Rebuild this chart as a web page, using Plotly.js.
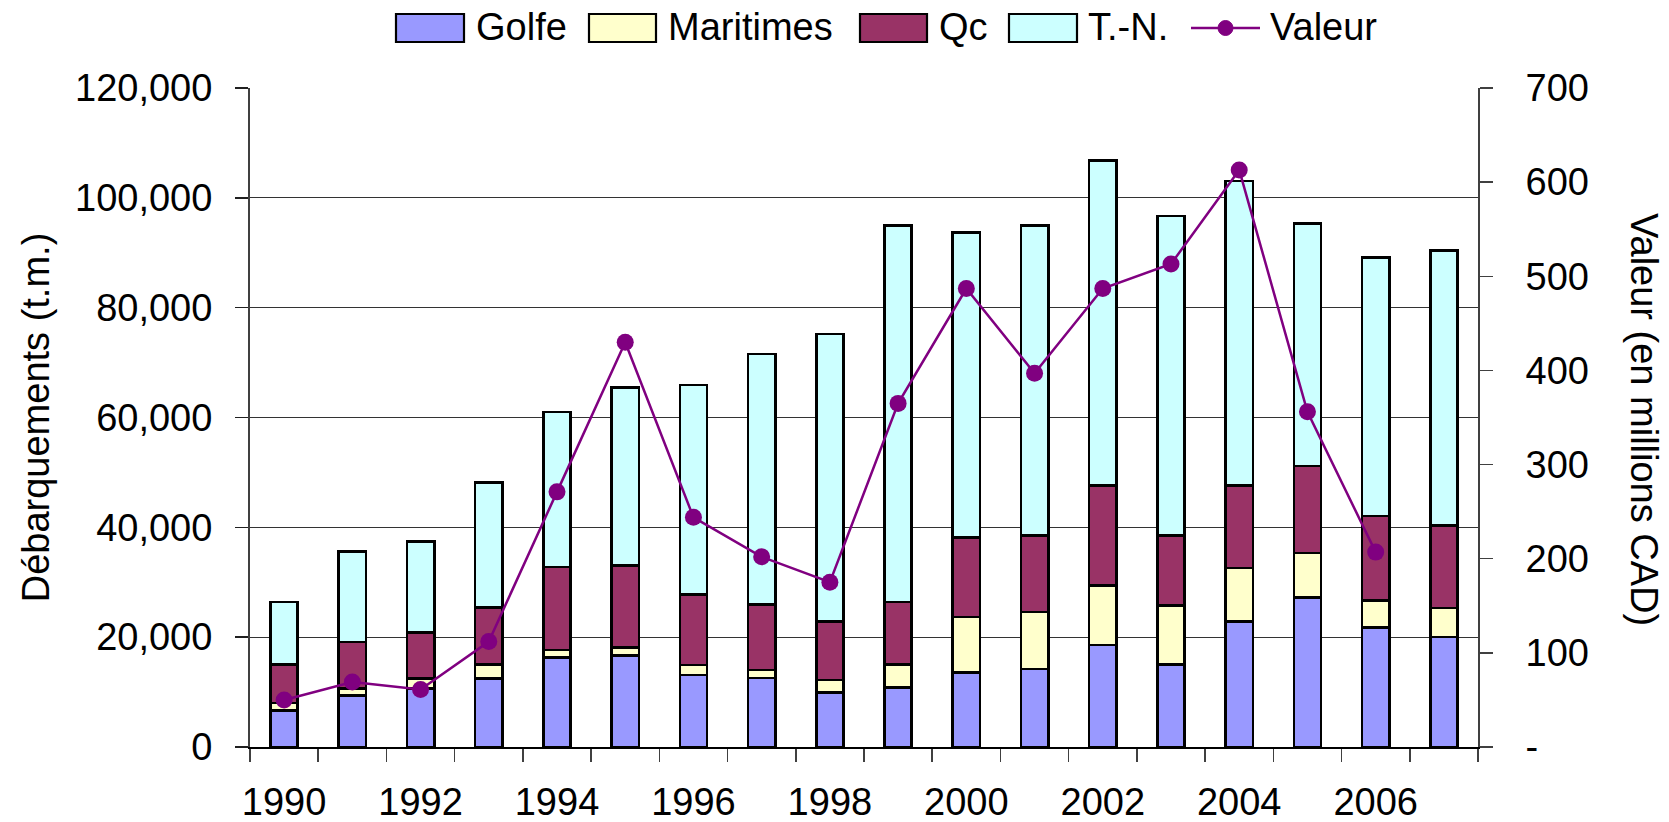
<!DOCTYPE html>
<html>
<head>
<meta charset="utf-8">
<script src="https://cdn.plot.ly/plotly-3.0.1.min.js"></script>
<style>
  html, body { margin: 0; padding: 0; background: #ffffff; }
  #chart { width: 1669px; height: 822px; }
</style>
</head>
<body>
<div id="chart"></div>
<script>
// ---- data ----
const years = [1990, 1991, 1992, 1993, 1994, 1995, 1996, 1997, 1998, 1999,
               2000, 2001, 2002, 2003, 2004, 2005, 2006, 2007];
const golfe     = [6600, 9400, 10700, 12500, 16300, 16700, 13100, 12600, 9900, 10800,
                   13600, 14200, 18600, 15000, 22800, 27200, 21800, 20000];
const maritimes = [1400, 1300, 1800, 2500, 1400, 1400, 1800, 1400, 2300, 4200,
                   10100, 10400, 10800, 10800, 9800, 8100, 4900, 5300];
const qc        = [7000, 8400, 8400, 10400, 15100, 15000, 12900, 12000, 10600, 11400,
                   14500, 13900, 18200, 12700, 15000, 15900, 15400, 15000];
const tn        = [11400, 16500, 16500, 22800, 28200, 32400, 38100, 45600, 52400, 68600,
                   55500, 56500, 59200, 58200, 55500, 44100, 47000, 50100];
const valeurYears = [1990, 1991, 1992, 1993, 1994, 1995, 1996, 1997, 1998, 1999,
                     2000, 2001, 2002, 2003, 2004, 2005, 2006];
const valeur    = [50, 69, 61, 112, 271, 430, 244, 202, 175, 365,
                   487, 397, 487, 513, 613, 356, 207];
const xTickYears = [1990, 1992, 1994, 1996, 1998, 2000, 2002, 2004, 2006];
const leftTicks = [0, 20000, 40000, 60000, 80000, 100000, 120000];
const rightTicks = [0, 100, 200, 300, 400, 500, 600, 700];
const rightTickText = ['-', '100', '200', '300', '400', '500', '600', '700'];

const seriesNames = ['Golfe', 'Maritimes', 'Qc', 'T.-N.'];
const seriesColors = ['#9999FF', '#FFFFCC', '#993366', '#CCFFFF'];
const seriesData = [golfe, maritimes, qc, tn];
const lineColor = '#800080';

// ---- layout geometry ----
const W = 1669, H = 822;
const M = { l: 250, r: 191, t: 88, b: 75 };
const PW = W - M.l - M.r, PH = H - M.t - M.b;
const px = v => (v - M.l) / PW;      // pixel -> paper x
const py = v => (H - M.b - v) / PH;  // pixel -> paper y
const FONT = 'Liberation Sans, Arial, Helvetica, sans-serif';
const FS = 38;

const traces = seriesNames.map((name, i) => ({
  type: 'bar',
  name: name,
  x: years,
  y: seriesData[i],
  width: 0.4,
  marker: { color: seriesColors[i], line: { color: '#000000', width: 2.6 } },
  hoverinfo: 'x+y+name'
}));
traces.push({
  type: 'scatter',
  mode: 'lines+markers',
  name: 'Valeur',
  x: valeurYears,
  y: valeur,
  yaxis: 'y2',
  line: { color: lineColor, width: 2.5 },
  marker: { color: lineColor, size: 17 }
});

// ---- custom legend (large swatches like the original) ----
const legendItems = [
  { name: 'Golfe',     kind: 'box',  x0: 396,  x1: 464,  tx: 474 },
  { name: 'Maritimes', kind: 'box',  x0: 589,  x1: 656,  tx: 666 },
  { name: 'Qc',        kind: 'box',  x0: 860,  x1: 927,  tx: 937 },
  { name: 'T.-N.',     kind: 'box',  x0: 1009, x1: 1077, tx: 1086 },
  { name: 'Valeur',    kind: 'line', x0: 1191, x1: 1260, tx: 1268 }
];
const shapes = [];
const annotations = [];
const LY0 = 14, LY1 = 42, LYC = 28;
legendItems.forEach((it, i) => {
  if (it.kind === 'box') {
    shapes.push({
      type: 'rect', xref: 'paper', yref: 'paper',
      x0: px(it.x0), x1: px(it.x1), y0: py(LY1), y1: py(LY0),
      fillcolor: seriesColors[i], line: { color: '#000000', width: 2.2 }
    });
  } else {
    shapes.push({
      type: 'line', xref: 'paper', yref: 'paper',
      x0: px(it.x0), x1: px(it.x1), y0: py(LYC), y1: py(LYC),
      line: { color: lineColor, width: 2.5 }
    });
    const cx = (it.x0 + it.x1) / 2, r = 7.5;
    shapes.push({
      type: 'circle', xref: 'paper', yref: 'paper',
      x0: px(cx - r), x1: px(cx + r), y0: py(LYC + r), y1: py(LYC - r),
      fillcolor: lineColor, line: { color: lineColor, width: 1 }
    });
  }
  annotations.push({
    xref: 'paper', yref: 'paper', x: px(it.tx), y: py(LYC - 1),
    xanchor: 'left', yanchor: 'middle', showarrow: false,
    text: it.name, font: { family: FONT, size: FS, color: '#000000' }
  });
});
// right axis title (reads top to bottom)
annotations.push({
  xref: 'paper', yref: 'paper', x: px(1644), y: py(419),
  xanchor: 'center', yanchor: 'middle', showarrow: false, textangle: 90,
  text: 'Valeur (en millions CAD)', font: { family: FONT, size: FS, color: '#000000' }
});

const layout = {
  width: W, height: H,
  margin: M,
  paper_bgcolor: '#ffffff',
  plot_bgcolor: '#ffffff',
  barmode: 'stack',
  showlegend: false,
  font: { family: FONT, size: FS, color: '#000000' },
  xaxis: {
    type: 'linear',
    range: [1989.5, 2007.5],
    tickmode: 'array',
    tickvals: xTickYears,
    ticktext: xTickYears.map(String),
    ticks: '',
    ticklabelstandoff: 21,
    showgrid: false,
    zeroline: false,
    showline: true, linecolor: '#000000', linewidth: 1.5,
    minor: { tickmode: 'linear', tick0: 1989.5, dtick: 1, ticks: 'outside',
             ticklen: 13, tickwidth: 1.5, tickcolor: '#404040', showgrid: false },
    tickfont: { family: FONT, size: FS, color: '#000000' },
    fixedrange: true
  },
  yaxis: {
    range: [0, 120000],
    tickmode: 'array',
    tickvals: leftTicks,
    tickformat: ',d',
    ticks: 'outside', ticklen: 13, tickwidth: 1.5, tickcolor: '#202020',
    ticklabelstandoff: 15,
    showgrid: true, gridcolor: '#333333', gridwidth: 1.2,
    zeroline: false,
    showline: true, linecolor: '#404040', linewidth: 2,
    tickfont: { family: FONT, size: FS, color: '#000000' },
    title: { text: 'Débarquements (t.m.)', font: { family: FONT, size: FS, color: '#000000' }, standoff: 14 },
    fixedrange: true
  },
  yaxis2: {
    overlaying: 'y',
    side: 'right',
    range: [0, 700],
    tickmode: 'array',
    tickvals: rightTicks,
    ticktext: rightTickText,
    ticks: 'outside', ticklen: 13, tickwidth: 1.5, tickcolor: '#404040',
    ticklabelstandoff: 25,
    showgrid: false, zeroline: false,
    showline: true, linecolor: '#404040', linewidth: 2,
    tickfont: { family: FONT, size: FS, color: '#000000' },
    fixedrange: true
  },
  yaxis3: {
    overlaying: 'y',
    side: 'right',
    range: [0, 700],
    tickmode: 'array',
    tickvals: rightTicks,
    ticks: 'inside', ticklen: 12, tickwidth: 1.5, tickcolor: '#404040',
    showticklabels: false,
    showgrid: false, zeroline: false, showline: false,
    fixedrange: true
  },
  shapes: shapes,
  annotations: annotations
};

Plotly.newPlot('chart', traces, layout, { displayModeBar: false, staticPlot: true });
</script>
</body>
</html>
